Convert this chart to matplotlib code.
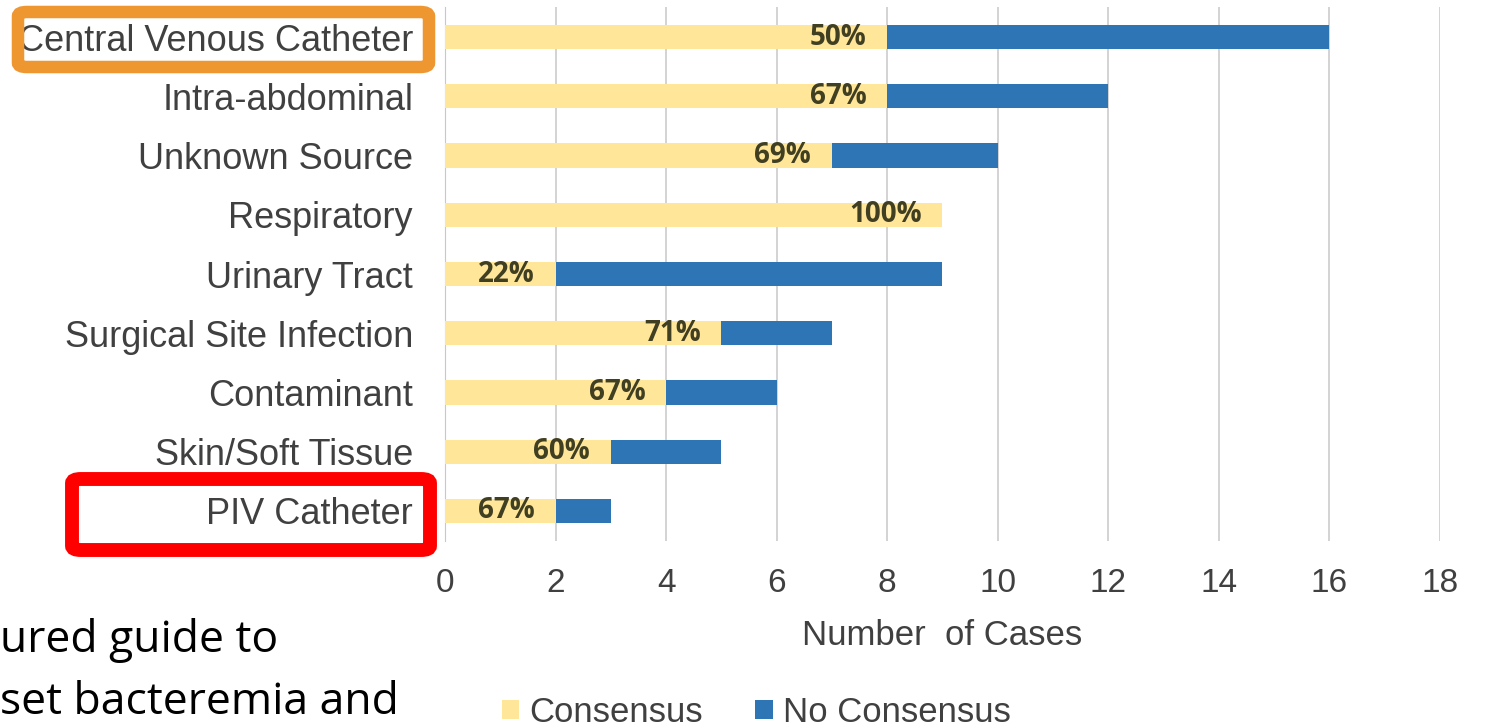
import numpy as np
import matplotlib.pyplot as plt
from matplotlib.patches import FancyBboxPatch

categories = ['Central Venous Catheter', 'Intra-abdominal', 'Unknown Source', 'Respiratory',
              'Urinary Tract', 'Surgical Site Infection', 'Contaminant', 'Skin/Soft Tissue',
              'PIV Catheter']
consensus = [8, 8, 7, 9, 2, 5, 4, 3, 2]
no_consensus = [8, 4, 3, 0, 7, 2, 2, 2, 1]
pct_labels = ['50%', '67%', '69%', '100%', '22%', '71%', '67%', '60%', '67%']

plt.rcParams['font.family'] = ['Liberation Sans', 'DejaVu Sans']

fig = plt.figure(figsize=(14.86, 7.28), dpi=100)
ax = fig.add_axes([0.2995, 0.2574, 0.6695, 0.7324])

ypos = np.arange(len(categories))
ax.barh(ypos, consensus, height=0.41, color='#FFE699', label='Consensus', zorder=3)
ax.barh(ypos, no_consensus, left=consensus, height=0.41, color='#2E75B6',
        label='No Consensus', zorder=3)

# percentage labels at the inner end of the consensus bar
for y, c, t in zip(ypos, consensus, pct_labels):
    ax.annotate(t, xy=(c, y), xytext=(-15, 0), textcoords='offset points', ha='right',
                va='center', fontsize=20, fontweight='bold', color='#403F22',
                family=['Open Sans', 'DejaVu Sans'], zorder=4)

ax.set_xlim(0, 18)
ax.set_ylim(len(categories) - 0.5, -0.5)
ax.set_xticks(np.arange(0, 19, 2))
ax.set_yticks(ypos)
ax.set_yticklabels(categories, fontsize=26, color='#404040')
ax.tick_params(axis='x', labelsize=24, labelcolor='#404040', length=0, pad=20)
ax.tick_params(axis='y', length=0, pad=23)
ax.grid(axis='x', color='#D0D0D0', linewidth=1.3, zorder=0)
for s in ['top', 'right', 'bottom']:
    ax.spines[s].set_visible(False)
ax.spines['left'].set_color('#C8C8C8')
ax.set_xlabel('Number  of Cases', fontsize=25, color='#404040', labelpad=14)

ax.legend(loc='center', bbox_to_anchor=(0.313, -0.322), ncol=2, frameon=False,
          fontsize=25, labelcolor='#404040', handlelength=0.5, handleheight=0.5,
          handletextpad=0.3, columnspacing=1.5, borderpad=0)

# highlight boxes drawn over the slide
fig.patches.append(FancyBboxPatch((18 / 1486, 1 - 67 / 728), 411 / 1486, 55 / 728,
                                  boxstyle='round,pad=0,rounding_size=0.006',
                                  transform=fig.transFigure, fill=False,
                                  edgecolor='#EE9630', linewidth=9))
fig.patches.append(FancyBboxPatch((72 / 1486, 1 - 550 / 728), 358 / 1486, 71 / 728,
                                  boxstyle='round,pad=0,rounding_size=0.006',
                                  transform=fig.transFigure, fill=False,
                                  edgecolor='#FF0000', linewidth=10))

# slide text partly hidden behind the chart
fig.text(0.0, 1 - 652 / 728, 'ured guide to', fontsize=32, color='black',
         family=['Open Sans', 'DejaVu Sans'], va='baseline')
fig.text(0.0, 1 - 714 / 728, 'set bacteremia and', fontsize=32, color='black',
         family=['Open Sans', 'DejaVu Sans'], va='baseline')

fig.savefig('out.png', dpi=100, facecolor='white')
